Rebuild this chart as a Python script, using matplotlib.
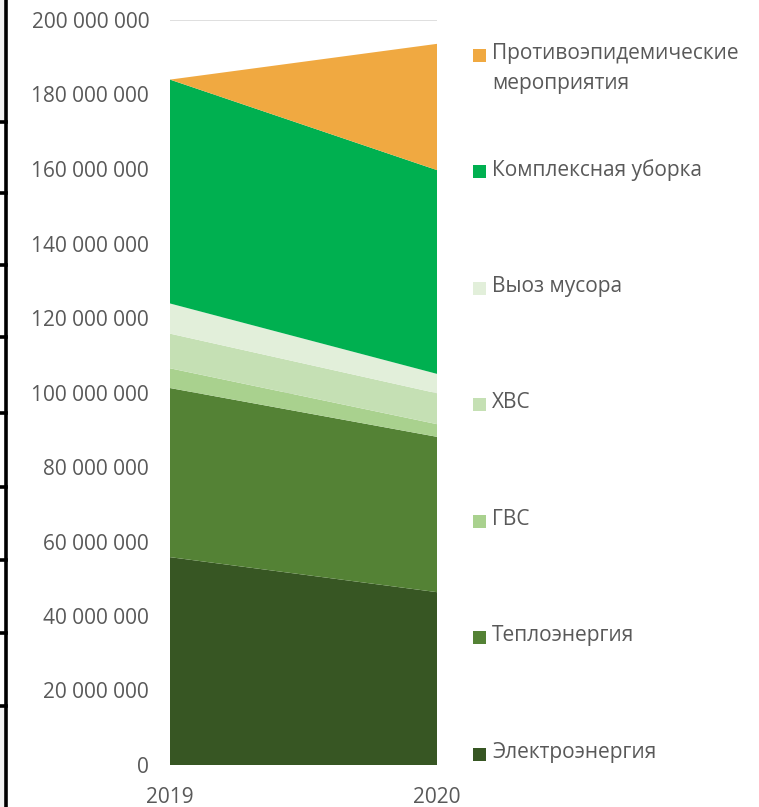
import matplotlib
matplotlib.use("Agg")
import matplotlib.pyplot as plt
from matplotlib.lines import Line2D
from matplotlib.patches import Rectangle
import numpy as np

years = ["2019", "2020"]
series_names = ["Электроэнергия", "Теплоэнергия", "ГВС", "ХВС", "Выоз мусора",
                "Комплексная уборка", "Противоэпидемические\nмероприятия"]
electro = [55.8e6, 46.4e6]
teplo = [45.4e6, 41.7e6]
gvs = [5.3e6, 3.4e6]
hvs = [9.3e6, 8.3e6]
vyvoz = [8.1e6, 5.2e6]
kompleks = [60.1e6, 54.7e6]
protivo = [0.0, 33.9e6]
colors = ["#375623", "#548235", "#A9D18E", "#C5E0B4", "#E2EFDA", "#00B050", "#F0A941"]
yticks = np.arange(0, 200e6 + 1, 20e6)

plt.rcParams['font.family'] = ['Open Sans', 'DejaVu Sans']
W, H = 759, 807
fig = plt.figure(figsize=(W / 100, H / 100), dpi=100)
ax = fig.add_axes([170 / W, 1 - 765 / H, (437 - 170) / W, (765 - 20) / H])

x = np.arange(len(years))
data = [electro, teplo, gvs, hvs, vyvoz, kompleks, protivo]
ax.stackplot(x, *data, colors=colors, linewidth=0, zorder=2)
ax.set_xlim(0, 1)
ax.set_ylim(0, 200e6)
ax.set_yticks(yticks)
ax.set_yticklabels(["0" if v == 0 else f"{int(v):,}".replace(",", " ") for v in yticks])
ax.set_xticks(x)
ax.set_xticklabels(years)
ax.grid(axis='y', color="#D9D9D9", linewidth=1.2, zorder=0)
ax.set_axisbelow(True)
for s in ax.spines.values():
    s.set_visible(False)
ax.tick_params(axis='both', length=0, labelsize=15, colors="#595959")
ax.tick_params(axis='y', pad=15)
ax.tick_params(axis='x', pad=16)

# legend, built manually
def fy(py):
    return 1 - py / H
y0 = 754
step = 116.5
for i, (name, c) in enumerate(zip(series_names, colors)):
    yc = y0 - i * step
    if i == len(series_names) - 1:
        yc = 55
    fig.patches.append(Rectangle((473 / W, fy(yc + 6.5)), 13 / W, 13 / H,
                                 transform=fig.transFigure, facecolor=c, edgecolor='none'))
    fig.text(492 / W, fy(yc - 12), name, ha='left', va='top', fontsize=15,
             color="#595959", linespacing=1.55)

# left border artifact
fig.patches.append(Rectangle((0, fy(120)), 5 / W, 120 / H, transform=fig.transFigure,
                             facecolor="#F2F2F2", edgecolor='none'))
fig.patches.append(Rectangle((0, 0), 5 / W, (H - 706) / H, transform=fig.transFigure,
                             facecolor="#F2F2F2", edgecolor='none'))
fig.add_artist(Line2D([6 / W, 6 / W], [0, 1], color='black', linewidth=2.6))
for py in [122, 193, 265, 337, 413, 487, 560, 633, 706]:
    fig.add_artist(Line2D([0, 6 / W], [fy(py), fy(py)], color='black', linewidth=2.6))

fig.savefig("out.png", dpi=100, facecolor='white')
